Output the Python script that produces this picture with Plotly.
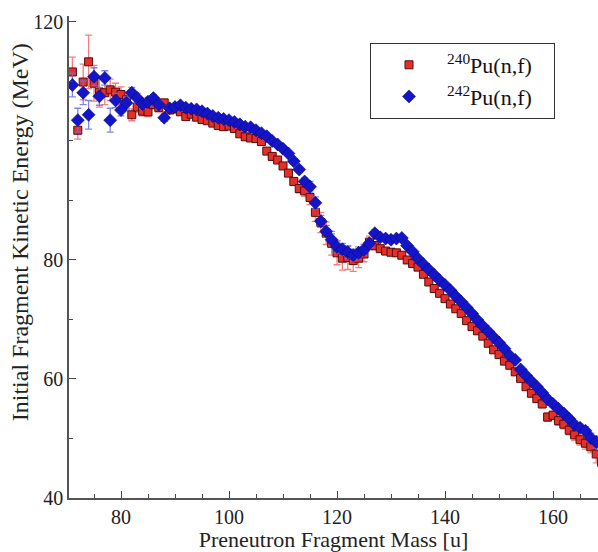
import plotly.graph_objects as go

# Preneutron fragment mass numbers
mass_240 = list(range(71, 170))
mass_242 = list(range(71, 169))

# Initial fragment total kinetic energy (MeV), 240Pu(n,f)
tke_240 = [
    111.6, 101.8, 109.9, 113.3, 109.7, 108.2, 108.1, 108.6, 108.2, 107.8,
    106.9, 104.4, 105.7, 105.0, 104.9, 106.1, 105.6, 106.4, 105.2, 105.4,
    104.9, 104.1, 104.5, 104.0, 103.6, 103.4, 103.0, 102.6, 102.4, 102.5,
    102.1, 101.2, 100.7, 100.5, 100.4, 99.9, 98.3, 97.4, 96.8, 95.8,
    94.6, 93.2, 92.0, 91.6, 90.5, 88.0, 86.3, 84.5, 82.8, 81.2,
    80.3, 80.4, 79.9, 80.3, 81.0, 83.0, 82.4, 81.9, 81.5, 81.3,
    81.2, 80.8, 80.0, 79.4, 78.8, 77.6, 76.3, 75.2, 74.4, 73.5,
    72.6, 71.8, 71.0, 69.8, 68.8, 68.1, 67.2, 66.0, 64.9, 64.1,
    63.0, 62.3, 61.2, 60.1, 58.7, 57.6, 56.7, 55.8, 53.6, 53.9,
    53.0, 52.4, 51.4, 50.6, 49.8, 49.2, 48.6, 47.4, 46.0,
]
err_240 = [
    2.5, 1.5, 3.0, 4.5, 3.0, 2.5, 2.0, 1.8, 1.5, 1.3,
    1.2, 1.0, 0.9, 0.8, 0.8, 0.7, 0.7, 0.6, 0.5, 0.5,
    0.5, 0.5, 0.5, 0.5, 0.5, 0.5, 0.5, 0.5, 0.5, 0.5,
    0.5, 0.5, 0.5, 0.5, 0.5, 0.5, 0.5, 0.5, 0.5, 0.5,
    0.5, 0.6, 0.7, 0.9, 1.2, 1.5, 1.7, 1.9, 2.0, 2.0,
    2.0, 2.0, 1.8, 1.6, 1.3, 1.0, 0.7, 0.5, 0.5, 0.5,
    0.5, 0.5, 0.5, 0.5, 0.5, 0.5, 0.5, 0.5, 0.5, 0.5,
    0.5, 0.5, 0.5, 0.5, 0.5, 0.5, 0.5, 0.5, 0.5, 0.5,
    0.5, 0.5, 0.5, 0.5, 0.5, 0.5, 0.5, 0.6, 0.7, 0.7,
    0.8, 0.8, 0.8, 0.9, 0.9, 1.0, 1.0, 1.5, 3.0,
]

# Initial fragment total kinetic energy (MeV), 242Pu(n,f)
tke_242 = [
    109.4, 103.5, 108.1, 104.4, 110.8, 107.5, 110.6, 103.5, 106.8, 105.2,
    106.4, 108.1, 107.2, 106.2, 106.6, 107.2, 106.1, 103.9, 105.5, 105.7,
    106.0, 105.6, 105.4, 105.3, 105.0, 104.6, 104.2, 103.9, 103.7, 103.5,
    103.2, 102.8, 102.4, 102.3, 101.8, 101.3, 100.8, 100.0, 99.4, 98.7,
    97.9, 96.6, 95.2, 93.2, 92.3, 89.6, 86.5, 84.8, 83.4, 82.2,
    81.8, 81.3, 80.8, 81.2, 81.7, 82.8, 84.5, 83.8, 83.6, 83.4,
    83.6, 83.7, 82.4, 81.4, 80.2, 79.3, 78.4, 77.5, 76.6, 75.8,
    74.9, 73.9, 73.0, 72.0, 71.0, 69.9, 68.9, 68.0, 67.0, 66.1,
    65.1, 63.9, 63.2, 61.6, 60.6, 59.6, 58.7, 57.7, 56.6, 55.8,
    55.0, 54.2, 53.3, 52.3, 51.8, 51.3, 50.1, 49.4,
]
err_242 = [
    2.0, 2.0, 2.0, 2.4, 1.5, 1.5, 1.2, 2.0, 1.2, 1.0,
    1.0, 0.9, 0.8, 0.7, 0.7, 0.6, 0.6, 0.6, 0.5, 0.5,
    0.4, 0.4, 0.4, 0.4, 0.4, 0.4, 0.4, 0.4, 0.4, 0.4,
    0.4, 0.4, 0.4, 0.4, 0.4, 0.4, 0.4, 0.4, 0.4, 0.4,
    0.4, 0.4, 0.5, 0.6, 0.9, 1.0, 1.0, 1.0, 1.0, 1.0,
    1.0, 1.0, 1.0, 1.0, 0.9, 0.7, 0.5, 0.4, 0.4, 0.4,
    0.4, 0.4, 0.4, 0.4, 0.4, 0.4, 0.4, 0.4, 0.4, 0.4,
    0.4, 0.4, 0.4, 0.4, 0.4, 0.4, 0.4, 0.4, 0.4, 0.4,
    0.4, 0.4, 0.4, 0.4, 0.4, 0.4, 0.4, 0.5, 0.5, 0.5,
    0.5, 0.5, 0.6, 0.6, 0.6, 0.7, 0.8, 1.0,
]

y_tick_vals = [40, 60, 80, 120]
x_tick_vals = [80, 100, 120, 140, 160]

serif = "Liberation Serif, Times New Roman, serif"

fig = go.Figure()

fig.add_trace(go.Scatter(
    x=mass_240, y=tke_240, mode="markers",
    name="<sup>240</sup>Pu(n,f)&nbsp;&nbsp;&nbsp;",
    marker=dict(symbol="square", size=8, color="#e3302a",
                line=dict(color="#5a0a0a", width=1)),
    error_y=dict(type="data", array=err_240, color="rgba(240,105,105,0.85)",
                 thickness=1.3, width=3.5),
))
fig.add_trace(go.Scatter(
    x=mass_242, y=tke_242, mode="markers",
    name="<sup>242</sup>Pu(n,f)&nbsp;&nbsp;&nbsp;",
    marker=dict(symbol="diamond", size=10, color="#1414c8",
                line=dict(color="#0a0a70", width=0.6)),
    error_y=dict(type="data", array=err_242, color="rgba(110,110,225,0.85)",
                 thickness=1.3, width=3.5),
))

axis_common = dict(
    showgrid=False, zeroline=False, showline=True,
    linecolor="#555555", linewidth=1.5,
    ticks="inside", ticklen=7, tickwidth=1.2, tickcolor="#444444",
    tickfont=dict(family=serif, size=20, color="#222222"),
)

fig.update_layout(
    width=598, height=552,
    margin=dict(l=69, r=0, t=16, b=54),
    paper_bgcolor="white", plot_bgcolor="white",
    font=dict(family=serif, color="#222222"),
    xaxis=dict(
        range=[70.37, 168.33], tickvals=x_tick_vals,
        minor=dict(dtick=5, tick0=0, ticks="inside", ticklen=4,
                   tickcolor="#444444", tickwidth=1),
        title=dict(text="Preneutron Fragment Mass [u]",
                   font=dict(family=serif, size=22, color="#222222"),
                   standoff=2),
        **axis_common,
    ),
    yaxis=dict(
        range=[40, 121], tickvals=y_tick_vals,
        minor=dict(dtick=10, tick0=0, ticks="inside", ticklen=4,
                   tickcolor="#444444", tickwidth=1),
        **axis_common,
    ),
    legend=dict(
        x=0.569, y=0.944, xanchor="left", yanchor="top",
        bgcolor="white", bordercolor="#333333", borderwidth=1,
        itemwidth=66,
        font=dict(family=serif, size=22, color="#111111"),
    ),
    showlegend=True,
)

# Rotated y-axis title
fig.add_annotation(
    text="Initial Fragment Kinetic Energy (MeV)",
    xref="paper", yref="paper", x=-0.092, y=0.552,
    xanchor="center", yanchor="middle", textangle=-90, showarrow=False,
    font=dict(family=serif, size=24, color="#222222"),
)

fig.write_html("out.html")
